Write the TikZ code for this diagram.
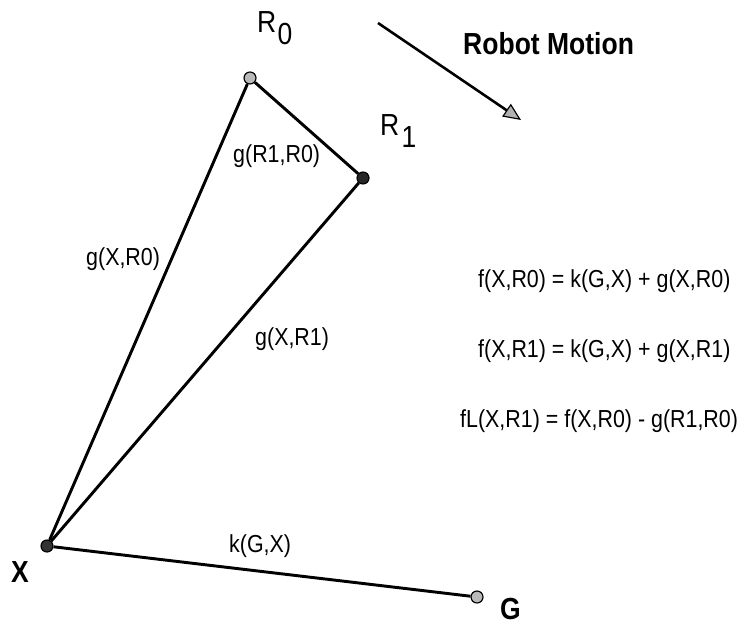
\documentclass[tikz,border=0pt]{standalone}
\usepackage{xcolor}
\usepackage{fontspec}
\setmainfont{Liberation Sans}[FakeStretch=0.87]
\usepackage{tikz}
\usetikzlibrary{arrows.meta}

\newcommand{\lbltxt}{\fontsize{21}{25}\selectfont}
\newcommand{\bigtxt}{\fontsize{26}{30}\selectfont}

\begin{document}
\begin{tikzpicture}[x=0.03cm, y=-0.03cm,
    posdot/.style={circle, draw, line width=1pt, inner sep=0pt, minimum size=0.36cm},
    txt/.style={inner sep=0pt, anchor=base west, font=\lbltxt},
    edge/.style={line width=2.5pt}]
    \useasboundingbox (0,0) rectangle (754,624);

    \node[posdot, fill=gray!55] at (250,78) (R0) {};
    \node[posdot, fill=black!85] at (363,178) (R1) {};
    \node[posdot, fill=black!80] at (47,546) (X) {};
    \node[posdot, fill=gray!55] at (477,597) (G) {};

    \node[txt, font=\bigtxt] at (257,33) (R0name) {R\kern1pt\raisebox{-10pt}{0}};
    \node[txt, font=\bigtxt] at (380,136) (R1name) {R\kern2pt\raisebox{-10pt}{1}};
    \node[txt, font=\bigtxt\bfseries] at (11,582) (Xname) {X};
    \node[txt, font=\bigtxt\bfseries] at (500,619) (Gname) {G};

    \draw[edge] (R0) -- (R1);
    \draw[edge] (R0) -- (X);
    \draw[edge] (R1) -- (X);
    \draw[edge] (X) -- (G);

    \node[txt] at (233,163) (gR1R0) {g(R1,R0)};
    \node[txt] at (86,265) (gXR0) {g(X,R0)};
    \node[txt] at (255,345) (gXR1) {g(X,R1)};
    \node[txt] at (229,552) (kGX) {k(G,X)};

    % robot motion
    \coordinate (mstart) at (378,23);
    \coordinate (mend) at (521,120);
    \draw[line width=2.2pt, -{Triangle[length=15pt, width=13pt, fill=gray!60, line width=1pt]}] (mstart) -- (mend);
    \node[txt, font=\bigtxt\bfseries] at (463,55) (motion) {Robot Motion};

    \node[txt] at (478,288) (eqA) {f(X,R0) = k(G,X) + g(X,R0)};
    \node[txt] at (478,357) (eqB) {f(X,R1) = k(G,X) + g(X,R1)};
    \node[txt] at (460,427) (eqC) {fL(X,R1) = f(X,R0) - g(R1,R0)};
\end{tikzpicture}
\end{document}
